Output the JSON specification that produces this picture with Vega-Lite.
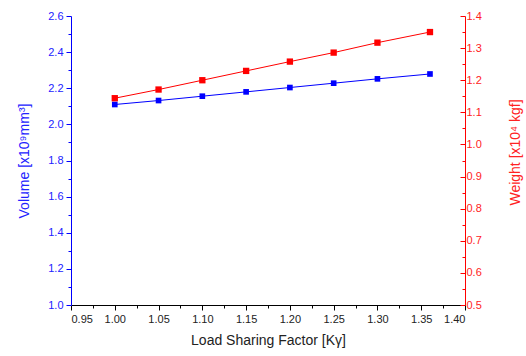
{
  "$schema": "https://vega.github.io/schema/vega-lite/v6.json",
  "autosize": "none",
  "width": 394,
  "height": 289,
  "padding": {"left": 71, "top": 16, "right": 61, "bottom": 51},
  "background": "white",
  "config": {
    "view": {"stroke": null},
    "axis": {"grid": false, "labelFont": "Liberation Sans", "titleFont": "Liberation Sans", "labelFontSize": 11, "titleFontSize": 14, "titleFontWeight": "normal", "domainWidth": 1, "tickWidth": 1}
  },
  "data": {"values": [
    {"k": 1.00, "volume": 2.110, "weight": 1.144},
    {"k": 1.05, "volume": 2.132, "weight": 1.171},
    {"k": 1.10, "volume": 2.156, "weight": 1.200},
    {"k": 1.15, "volume": 2.180, "weight": 1.229},
    {"k": 1.20, "volume": 2.204, "weight": 1.258},
    {"k": 1.25, "volume": 2.228, "weight": 1.286},
    {"k": 1.30, "volume": 2.252, "weight": 1.317},
    {"k": 1.36, "volume": 2.279, "weight": 1.350}
  ]},
  "encoding": {
    "x": {
      "field": "k", "type": "quantitative",
      "scale": {"domain": [0.95, 1.40], "zero": false, "nice": false},
      "axis": {
        "title": "Load Sharing Factor [Kγ]",
        "values": [0.95, 0.975, 1.0, 1.025, 1.05, 1.075, 1.1, 1.125, 1.15, 1.175, 1.2, 1.225, 1.25, 1.275, 1.3, 1.325, 1.35, 1.375, 1.4],
        "labelExpr": "round(datum.value*40)%2==0 ? format(datum.value,'.2f') : ''",
        "tickSize": {"condition": {"test": "round(datum.value*40)%2==0", "value": 5}, "value": 3},
        "domainColor": "black", "tickColor": "black", "labelColor": "#222", "titleColor": "#222",
        "labelPadding": 3, "titlePadding": 9
      }
    }
  },
  "layer": [
    {
      "encoding": {
        "y": {
          "field": "volume", "type": "quantitative",
          "scale": {"domain": [1.0, 2.6], "zero": false, "nice": false},
          "axis": {
            "orient": "left",
            "title": "Volume [x10⁹mm³]",
            "values": [1.0, 1.1, 1.2, 1.3, 1.4, 1.5, 1.6, 1.7, 1.8, 1.9, 2.0, 2.1, 2.2, 2.3, 2.4, 2.5, 2.6],
            "labelExpr": "round(datum.value*10)%2==0 ? format(datum.value,'.1f') : ''",
            "tickSize": {"condition": {"test": "round(datum.value*10)%2==0", "value": 5}, "value": 3},
            "domainColor": "#0000ff", "tickColor": "#0000ff", "labelColor": "#2222ff", "titleColor": "#2222ff",
            "labelPadding": 3, "titlePadding": 16
          }
        }
      },
      "layer": [
        {"mark": {"type": "line", "color": "#0000ff", "strokeWidth": 1}},
        {"mark": {"type": "point", "shape": "square", "filled": true, "size": 32, "color": "#0000ff", "opacity": 1}}
      ]
    },
    {
      "encoding": {
        "y": {
          "field": "weight", "type": "quantitative",
          "scale": {"domain": [0.5, 1.4], "zero": false, "nice": false},
          "axis": {
            "orient": "right",
            "title": "Weight [x10⁴ kgf]",
            "titleAngle": 270,
            "titleBaseline": "bottom",
            "titleY": 136,
            "values": [0.5, 0.55, 0.6, 0.65, 0.7, 0.75, 0.8, 0.85, 0.9, 0.95, 1.0, 1.05, 1.1, 1.15, 1.2, 1.25, 1.3, 1.35, 1.4],
            "labelExpr": "round(datum.value*20)%2==0 ? format(datum.value,'.1f') : ''",
            "tickSize": {"condition": {"test": "round(datum.value*20)%2==0", "value": -5}, "value": -3},
            "domainColor": "#ff0000", "tickColor": "#ff0000", "labelColor": "#ff2222", "titleColor": "#ff2222",
            "labelPadding": 6, "titlePadding": 41
          }
        }
      },
      "layer": [
        {"mark": {"type": "line", "color": "#ff0000", "strokeWidth": 1}},
        {"mark": {"type": "point", "shape": "square", "filled": true, "size": 40, "color": "#ff0000", "opacity": 1}}
      ]
    }
  ],
  "resolve": {"scale": {"y": "independent"}}
}
